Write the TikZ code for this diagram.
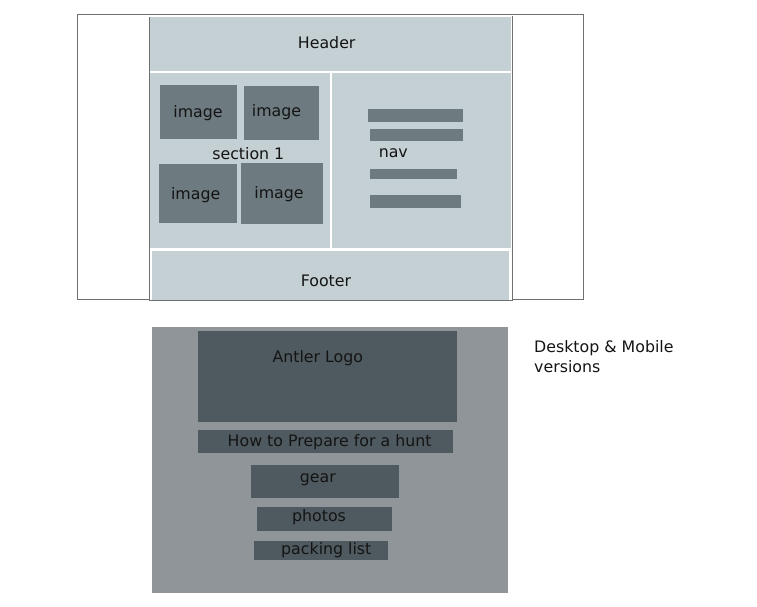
\documentclass[tikz,border=0pt]{standalone}
\usepackage{fontspec}
\setmainfont{DejaVu Sans}
\usepackage{xcolor}
\usepackage{tikz}
\usetikzlibrary{positioning}

\definecolor{paneblue}{HTML}{C5D0D4}
\definecolor{imggray}{HTML}{6D7A80}
\definecolor{mobgray}{HTML}{8F9598}
\definecolor{mobdark}{HTML}{4F5A60}
\definecolor{framegray}{HTML}{707070}

\tikzset{
  txt/.style={inner sep=0pt, yshift=-1.5pt, font=\fontsize{15.8}{19.5}\selectfont, text=black!92},
  pane/.style={fill=paneblue},
  img/.style={fill=imggray},
  mob/.style={fill=mobdark}
}

\begin{document}
\begin{tikzpicture}[x=1pt, y=-1pt]
    \useasboundingbox (0, 0) rectangle (757, 606);
    % desktop wireframe
    \draw[framegray, line width=0.8pt] (77.5, 14.5) rectangle (583.5, 299.5);
    \fill[white] (149.5, 15.5) rectangle (512, 300);
    \fill[pane] (149.5, 16) rectangle (511, 71);
    \fill[pane] (149.5, 73) rectangle (330, 248);
    \fill[pane] (332, 73) rectangle (510.5, 248);
    \fill[pane] (151.5, 250.5) rectangle (508.5, 300);
    \draw[framegray, line width=0.8pt] (149.3, 16) -- (149.3, 300.3) -- (512.3, 300.3) -- (512.3, 16);
    \draw[white, line width=1.5pt] (149.3, 15.8) -- (512.3, 15.8);
    \node[txt] (header) at (326.7, 40.7) {Header};
    \node[txt] (footer) at (326, 279.3) {Footer};
    % section 1 images
    \fill[img] (160, 85) rectangle (236.7, 138.7);
    \fill[img] (244, 86) rectangle (318.7, 139.7);
    \fill[img] (159, 164) rectangle (236.7, 222.7);
    \fill[img] (241, 163) rectangle (323.3, 223.7);
    \node[txt] (imga) at (198, 111.5) {image};
    \node[txt] (imgb) at (276.5, 111) {image};
    \node[txt] (imgc) at (195.7, 194) {image};
    \node[txt] (imgd) at (279, 192.5) {image};
    \node[txt] (sect) at (248.3, 151.7) {section 1};
    % nav bars
    \fill[img] (368, 109) rectangle (462.7, 121.7);
    \fill[img] (370, 129) rectangle (462.7, 140.7);
    \fill[img] (370, 169) rectangle (456.7, 178.7);
    \fill[img] (370, 195) rectangle (460.7, 207.7);
    \node[txt] (nav) at (393.3, 151.5) {nav};
    % mobile wireframe
    \fill[mobgray] (152, 326.5) rectangle (508, 592.7);
    \fill[mob] (198, 331) rectangle (457, 421.5);
    \fill[mob] (198, 430) rectangle (453.3, 452.7);
    \fill[mob] (251, 465) rectangle (399.3, 497.7);
    \fill[mob] (257, 507) rectangle (392.2, 530.7);
    \fill[mob] (254, 541) rectangle (388, 559.7);
    \node[txt] (logo) at (317.8, 356.7) {Antler Logo};
    \node[txt] (howto) at (329.6, 440.7) {How to Prepare for a hunt};
    \node[txt] (gear) at (317.8, 478.3) {gear};
    \node[txt] (photos) at (319, 515.7) {photos};
    \node[txt] (packing) at (326.3, 548.3) {packing list};
    \node[txt, anchor=north west, align=left] (note) at (534, 339) {Desktop \& Mobile\\versions};
\end{tikzpicture}
\end{document}
